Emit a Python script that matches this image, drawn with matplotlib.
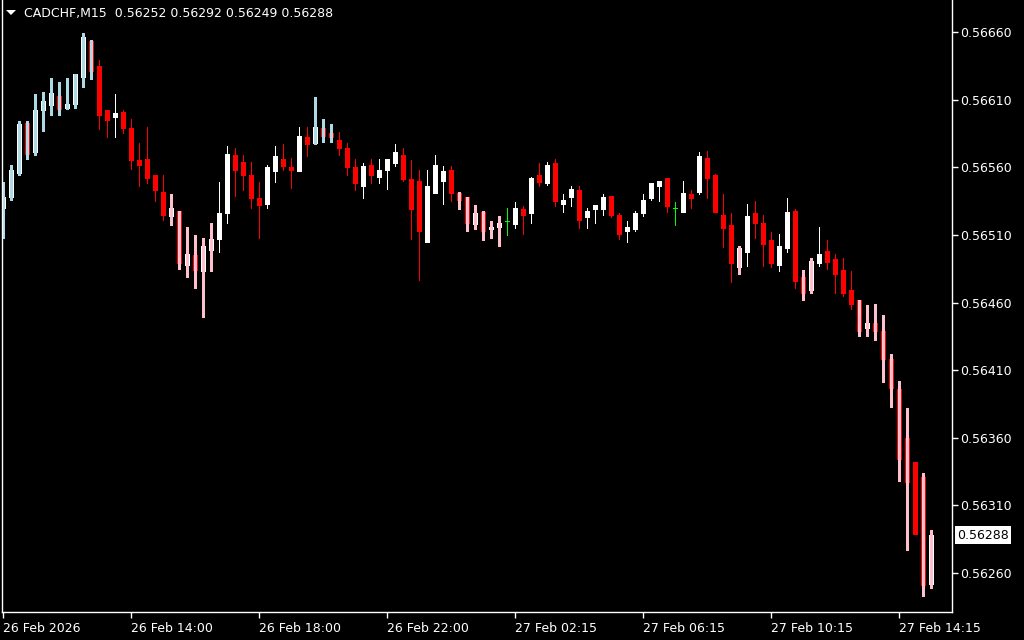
import numpy as np
import matplotlib
matplotlib.use("Agg")
import matplotlib.pyplot as plt
from matplotlib.patches import Polygon
from matplotlib.transforms import IdentityTransform

# CADCHF M15 bars, 26 Feb 10:00 .. 27 Feb 15:15
opens = [0.56530, 0.56538, 0.56556, 0.56593, 0.56571, 0.56602, 0.56606, 0.56613, 0.56604, 0.56607,
         0.56627, 0.56653, 0.56635, 0.56602, 0.56597, 0.56601, 0.56589, 0.56565, 0.56566, 0.56554,
         0.56542, 0.56524, 0.56528, 0.56488, 0.56495, 0.56483, 0.56499, 0.56507, 0.56526, 0.56569,
         0.56564, 0.56554, 0.56537, 0.56533, 0.56557, 0.56566, 0.56560, 0.56557, 0.56582, 0.56578,
         0.56589, 0.56585, 0.56580, 0.56574, 0.56560, 0.56546, 0.56562, 0.56553, 0.56558, 0.56563,
         0.56569, 0.56551, 0.56550, 0.56505, 0.56541, 0.56550, 0.56558, 0.56541, 0.56538, 0.56518,
         0.56527, 0.56514, 0.56516, 0.56520, 0.56518, 0.56529, 0.56526, 0.56554, 0.56548, 0.56563,
         0.56533, 0.56538, 0.56543, 0.56523, 0.56529, 0.56529, 0.56539, 0.56525, 0.56513, 0.56514,
         0.56526, 0.56537, 0.56546, 0.56552, 0.56530, 0.56527, 0.56540, 0.56542, 0.56567, 0.56554,
         0.56525, 0.56517, 0.56486, 0.56497, 0.56526, 0.56519, 0.56506, 0.56488, 0.56500, 0.56528,
         0.56479, 0.56469, 0.56489, 0.56498, 0.56492, 0.56484, 0.56469, 0.56462, 0.56441, 0.56445,
         0.56439, 0.56418, 0.56396, 0.56360, 0.56342, 0.56331, 0.56252]
highs = [0.56549, 0.56562, 0.56594, 0.56594, 0.56614, 0.56616, 0.56626, 0.56623, 0.56626, 0.56629,
         0.56659, 0.56654, 0.56639, 0.56602, 0.56614, 0.56602, 0.56596, 0.56578, 0.56590, 0.56554,
         0.56554, 0.56540, 0.56528, 0.56516, 0.56510, 0.56508, 0.56519, 0.56549, 0.56576, 0.56574,
         0.56569, 0.56564, 0.56549, 0.56562, 0.56576, 0.56577, 0.56567, 0.56590, 0.56590, 0.56612,
         0.56596, 0.56592, 0.56586, 0.56578, 0.56566, 0.56563, 0.56566, 0.56566, 0.56566, 0.56577,
         0.56574, 0.56565, 0.56558, 0.56558, 0.56569, 0.56561, 0.56561, 0.56542, 0.56538, 0.56532,
         0.56528, 0.56520, 0.56524, 0.56530, 0.56534, 0.56531, 0.56553, 0.56563, 0.56564, 0.56566,
         0.56540, 0.56546, 0.56546, 0.56530, 0.56532, 0.56540, 0.56539, 0.56526, 0.56520, 0.56528,
         0.56540, 0.56548, 0.56550, 0.56552, 0.56534, 0.56550, 0.56543, 0.56571, 0.56572, 0.56555,
         0.56540, 0.56526, 0.56502, 0.56533, 0.56535, 0.56525, 0.56512, 0.56511, 0.56537, 0.56529,
         0.56484, 0.56493, 0.56516, 0.56506, 0.56496, 0.56493, 0.56483, 0.56462, 0.56458, 0.56459,
         0.56451, 0.56422, 0.56402, 0.56382, 0.56342, 0.56334, 0.56292]
lows = [0.56508, 0.56536, 0.56554, 0.56566, 0.56569, 0.56587, 0.56599, 0.56599, 0.56603, 0.56604,
        0.56619, 0.56625, 0.56588, 0.56582, 0.56582, 0.56585, 0.56559, 0.56546, 0.56548, 0.56535,
        0.56521, 0.56517, 0.56485, 0.56479, 0.56471, 0.56449, 0.56483, 0.56497, 0.56519, 0.56539,
        0.56543, 0.56530, 0.56508, 0.56530, 0.56549, 0.56558, 0.56545, 0.56557, 0.56568, 0.56577,
        0.56579, 0.56579, 0.56569, 0.56554, 0.56543, 0.56537, 0.56548, 0.56548, 0.56544, 0.56561,
        0.56550, 0.56507, 0.56477, 0.56505, 0.56541, 0.56533, 0.56535, 0.56529, 0.56513, 0.56514,
        0.56506, 0.56508, 0.56502, 0.56510, 0.56515, 0.56511, 0.56519, 0.56546, 0.56547, 0.56531,
        0.56527, 0.56531, 0.56515, 0.56515, 0.56519, 0.56525, 0.56523, 0.56507, 0.56505, 0.56513,
        0.56524, 0.56536, 0.56535, 0.56527, 0.56517, 0.56527, 0.56530, 0.56540, 0.56537, 0.56527,
        0.56501, 0.56475, 0.56481, 0.56487, 0.56508, 0.56487, 0.56486, 0.56483, 0.56497, 0.56471,
        0.56462, 0.56467, 0.56487, 0.56485, 0.56467, 0.56465, 0.56455, 0.56435, 0.56435, 0.56432,
        0.56401, 0.56383, 0.56328, 0.56277, 0.56289, 0.56243, 0.56249]
closes = [0.56538, 0.56558, 0.56592, 0.56570, 0.56602, 0.56609, 0.56615, 0.56603, 0.56607, 0.56629,
          0.56656, 0.56631, 0.56599, 0.56595, 0.56600, 0.56589, 0.56565, 0.56562, 0.56552, 0.56543,
          0.56525, 0.56530, 0.56489, 0.56496, 0.56484, 0.56502, 0.56507, 0.56526, 0.56570, 0.56558,
          0.56554, 0.56537, 0.56532, 0.56560, 0.56568, 0.56561, 0.56558, 0.56583, 0.56577, 0.56590,
          0.56583, 0.56582, 0.56574, 0.56560, 0.56548, 0.56561, 0.56554, 0.56558, 0.56566, 0.56571,
          0.56551, 0.56529, 0.56513, 0.56546, 0.56562, 0.56557, 0.56541, 0.56536, 0.56519, 0.56526,
          0.56513, 0.56516, 0.56519, 0.56520, 0.56530, 0.56525, 0.56552, 0.56549, 0.56562, 0.56535,
          0.56536, 0.56544, 0.56521, 0.56528, 0.56532, 0.56538, 0.56525, 0.56511, 0.56516, 0.56526,
          0.56536, 0.56548, 0.56550, 0.56531, 0.56530, 0.56541, 0.56537, 0.56568, 0.56552, 0.56527,
          0.56515, 0.56489, 0.56500, 0.56524, 0.56519, 0.56503, 0.56489, 0.56502, 0.56527, 0.56476,
          0.56467, 0.56491, 0.56496, 0.56490, 0.56481, 0.56467, 0.56459, 0.56439, 0.56445, 0.56439,
          0.56418, 0.56397, 0.56344, 0.56327, 0.56289, 0.56251, 0.56288]
# trend colouring drawn over the bars: B = light blue, P = pink, . = none
trend = ("B" * 12 + "." * 9 + "P" * 6 + "." * 12 + "B" * 3 + "." * 15 + "P" * 6 +
         "." * 29 + "P" + "." * 7 + "PP" + "." * 5 + "P" * 7 + "." + "PP")

tick_bars = [0, 16, 32, 48, 64, 80, 96, 112]
tick_labels = ["26 Feb 2026", "26 Feb 14:00", "26 Feb 18:00", "26 Feb 22:00",
               "27 Feb 02:15", "27 Feb 06:15", "27 Feb 10:15", "27 Feb 14:15"]
price_ticks = [0.56260, 0.56310, 0.56360, 0.56410, 0.56460, 0.56510, 0.56560, 0.56610, 0.56660]
symbol = "CADCHF,M15"
bid = 0.56288

W, H = 1024, 640
fig = plt.figure(figsize=(W / 100, H / 100), dpi=100, facecolor="black")
# chart box in pixels: x 2..952, y 0..612
ax = fig.add_axes([2 / W, 1 - 612 / H, 950 / W, 612 / H])
ax.set_facecolor("black")

o = np.array(opens); h = np.array(highs); l = np.array(lows); c = np.array(closes)
x = np.arange(len(o))
tr = np.array(list(trend))

# 8 px per bar, 67.625 px per 50 points
ax.set_xlim((2 - 3) / 8, (952 - 3) / 8)
pp = 0.0005 / 67.625
ax.set_ylim(0.56660 - (612 - 32) * pp, 0.56660 + 32 * pp)

PX = 0.72  # one pixel in points
bull = c > o
bear = c < o
doji = c == o
wick_col = np.where(bull, "white", np.where(bear, "red", "#00ff00"))

ax.vlines(x, l, h, colors=wick_col, lw=PX, antialiased=False)
lo = np.minimum(o, c)
hi = np.maximum(np.maximum(o, c), lo + pp)
m = ~doji
ax.vlines(x[m], lo[m], hi[m], colors=np.where(bull, "white", "red")[m],
          lw=5 * PX, antialiased=False)
ax.hlines(o[doji], x[doji] - 0.3, x[doji] + 0.3, colors="#00ff00", lw=PX, antialiased=False)

for key, col in [("B", "#add8e6"), ("P", "#ffc0cb")]:
    s = tr == key
    ax.vlines(x[s], l[s], h[s], colors=col, lw=3 * PX, antialiased=False)

# axes
for sp in ax.spines.values():
    sp.set_color("white")
    sp.set_linewidth(1)
ax.spines["top"].set_visible(False)
ax.yaxis.tick_right()
ax.set_yticks(price_ticks)
ax.set_yticklabels([f"{p:.5f}" for p in price_ticks])
ax.set_xticks(tick_bars)
ax.set_xticklabels(tick_labels, ha="left")
ax.tick_params(colors="white", labelcolor="white", labelsize=9, length=4, width=1, pad=2)
ax.tick_params(axis="x", pad=3)
for t in ax.get_xticklabels():
    t.set_horizontalalignment("left")

# bid label
ax.annotate(f"{bid:.5f}", xy=(1, bid), xycoords=ax.get_yaxis_transform(),
            xytext=(5, 0), textcoords="offset pixels", va="center", ha="left",
            fontsize=9, color="black",
            bbox=dict(boxstyle="square,pad=0.2", fc="white", ec="none"))

# header
fig.text(24 / W, 1 - 13 / H, f"{symbol}  {o[-1]:.5f} {h[-1]:.5f} {l[-1]:.5f} {c[-1]:.5f}",
         color="white", fontsize=9, va="center", ha="left")
tri = Polygon([[6, H - 10], [16, H - 10], [11, H - 15]], closed=True, fc="white", ec="none",
              transform=IdentityTransform())
fig.patches.append(tri)

fig.savefig("out.png", dpi=100, facecolor="black")
